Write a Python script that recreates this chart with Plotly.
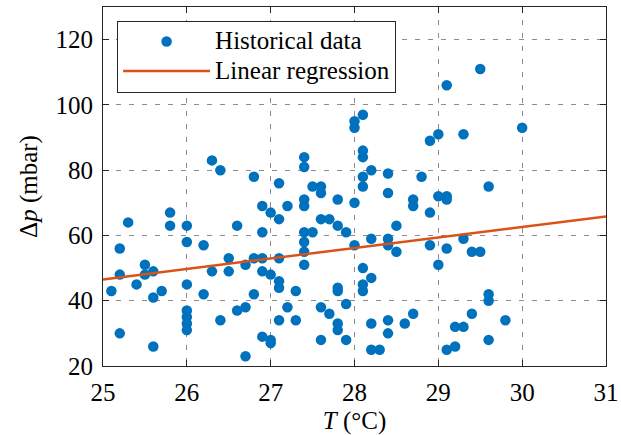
import plotly.graph_objects as go

# Historical data: temperature T (°C) and pressure drop Δp (mbar)
temp = [25.1, 25.2, 25.2, 25.2, 25.3, 25.4, 25.5, 25.5, 25.6, 25.6, 25.6, 25.7, 25.8, 25.8,
        26.0, 26.0, 26.0, 26.0, 26.0, 26.0, 26.0, 26.2, 26.2, 26.3, 26.3, 26.4, 26.4,
        26.5, 26.5, 26.6, 26.6, 26.7, 26.7, 26.7, 26.8, 26.8, 26.8,
        26.9, 26.9, 26.9, 26.9, 26.9, 27.0, 27.0, 27.0, 27.0,
        27.1, 27.1, 27.1, 27.1, 27.1, 27.1, 27.2, 27.2, 27.3, 27.3,
        27.4, 27.4, 27.4, 27.4, 27.4, 27.4, 27.4, 27.4, 27.5, 27.5,
        27.6, 27.6, 27.6, 27.6, 27.6, 27.7, 27.7,
        27.8, 27.8, 27.8, 27.8, 27.8, 27.8, 27.9, 27.9, 27.9,
        28.0, 28.0, 28.0, 28.0,
        28.1, 28.1, 28.1, 28.1, 28.1, 28.1, 28.1, 28.1,
        28.2, 28.2, 28.2, 28.2, 28.2, 28.3,
        28.4, 28.4, 28.4, 28.4, 28.4, 28.4, 28.5, 28.5, 28.6,
        28.7, 28.7, 28.7, 28.8, 28.9, 28.9, 28.9, 29.0, 29.0, 29.0,
        29.1, 29.1, 29.1, 29.1, 29.1, 29.2, 29.2, 29.3, 29.3, 29.3,
        29.4, 29.4, 29.5, 29.5, 29.6, 29.6, 29.6, 29.6, 29.8, 30.0]
dp = [43, 56, 48, 30, 64, 45, 51, 48, 49, 41, 26, 43, 67, 63,
      63, 58, 45, 37, 35, 33, 31, 57, 42, 83, 49, 80, 34,
      53, 49, 63, 37, 51, 38, 23, 78, 53, 42,
      69, 61, 53, 49, 29, 67, 48, 28, 27,
      76, 65, 53, 46, 44, 34, 69, 38, 43, 34,
      84, 81, 71, 69, 61, 58, 55, 51, 75, 61,
      75, 73, 65, 38, 28, 65, 36,
      71, 63, 44, 43, 33, 31, 61, 39, 28,
      95, 93, 70, 57,
      97, 86, 84, 78, 75, 50, 45, 43,
      80, 59, 47, 33, 25, 25,
      79, 73, 59, 57, 34, 30, 63, 55, 33,
      71, 69, 36, 78, 89, 67, 57, 91, 72, 51,
      106, 72, 71, 56, 25, 32, 26, 91, 59, 32,
      55, 36, 111, 55, 75, 42, 40, 28, 34, 93]

# Linear regression line (end points)
reg_temp = [25.0, 31.0]
reg_dp = [46.5, 65.8]

x_ticks = [25, 26, 27, 28, 29, 30, 31]
y_ticks = [20, 40, 60, 80, 100, 120]

FONT = "Liberation Serif, Times New Roman, serif"
AX = "#262626"

fig = go.Figure()
fig.add_trace(go.Scatter(
    x=temp, y=dp, mode="markers",
    name='<span style="font-size:25px">Historical data</span>',
    marker=dict(color="#0072BD", size=10.5, line=dict(width=0)),
))
fig.add_trace(go.Scatter(
    x=reg_temp, y=reg_dp, mode="lines",
    name='<span style="font-size:25px">Linear regression</span>',
    line=dict(color="#D95319", width=2.5),
))

axis_common = dict(
    showline=True, linecolor=AX, linewidth=1, mirror="ticks",
    ticks="inside", ticklen=6, tickcolor=AX,
    showgrid=True, gridcolor="#8c8c8c", griddash="5px,8px", gridwidth=1,
    zeroline=False, automargin=False,
    tickfont=dict(family=FONT, size=25, color="#000000"),
)

fig.update_xaxes(range=[25, 31], tickvals=x_ticks, ticklabelstandoff=4, **axis_common,
                 title=dict(text="<i>T</i> (°C)", font=dict(family=FONT, size=25, color="#000000"), standoff=7))
fig.update_yaxes(range=[20, 130], tickvals=y_ticks, ticklabelstandoff=4, **axis_common,
                 title=dict(text="Δ<i>p</i> (mbar)", font=dict(family=FONT, size=25, color="#000000"), standoff=10))

fig.update_layout(
    width=621, height=435,
    margin=dict(l=103, r=15, t=7, b=69, autoexpand=False),
    paper_bgcolor="white", plot_bgcolor="white",
    showlegend=True,
    hovermode=False,
    legend=dict(
        x=0.028, y=0.962, xanchor="left", yanchor="top",
        bgcolor="white", bordercolor=AX, borderwidth=1,
        font=dict(family=FONT, size=20.5, color="#000000"),
        itemwidth=87, tracegroupgap=0,
    ),
)

fig.write_html(
    "out.html",
    config={"displayModeBar": False, "staticPlot": True},
    post_script="document.body.style.margin='0';document.body.style.overflow='hidden';",
)
